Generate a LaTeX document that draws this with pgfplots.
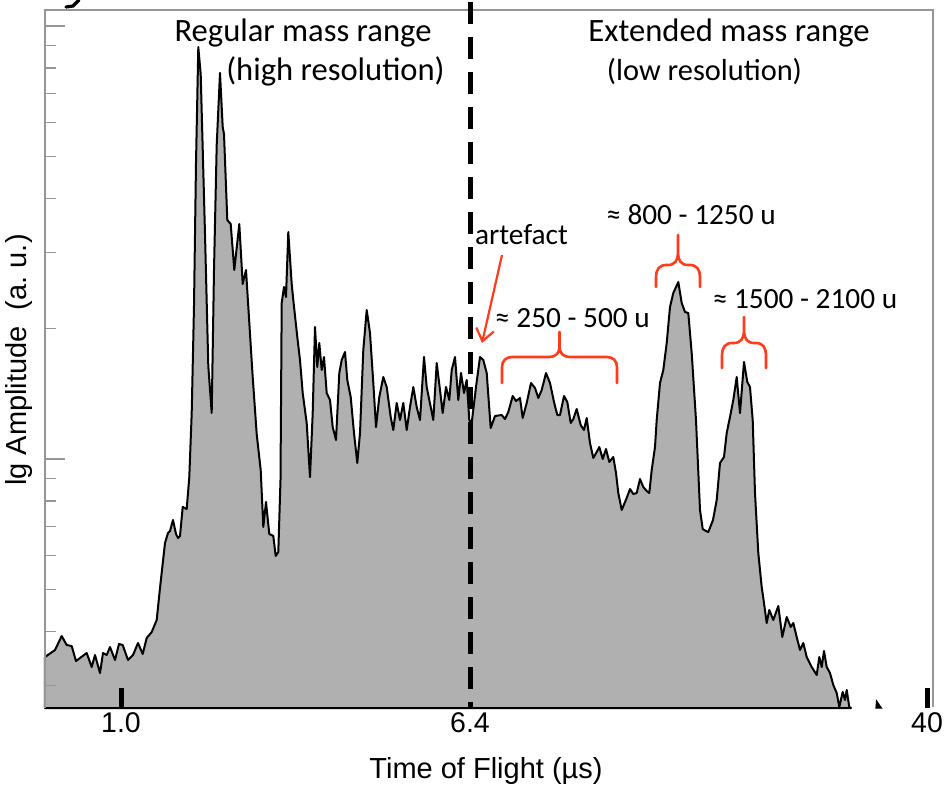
\documentclass[border=0pt]{standalone}
\usepackage{fontspec}
\setmainfont{Liberation Sans}
\newfontfamily\carl{Carlito}
\usepackage{pgfplots}
\usepackage{pgfplotstable}
\pgfplotsset{compat=1.18}
\usetikzlibrary{arrows.meta}
\definecolor{fillgray}{RGB}{176,176,176}
\definecolor{axgray}{RGB}{150,150,150}
\definecolor{annored}{RGB}{255,59,28}

% x: position along the time-of-flight axis (picture units), h: height of the lg-amplitude trace above the baseline
\pgfplotstableread{
x h
45 51
55 58
61.7 72
66.7 63
71.7 62
76 47
86.7 55
91.7 41
95 53
100 35
103 55
106.7 53
110 61
115 48
119 64
122.7 63
128 48
133 53
138 65
142.7 54
146.7 70
151.7 76
156.7 88
160 120
165 165
168 175
170 177
173 188
176 174
178 170
180 172
182.7 201
186.7 199
189.3 231
191.7 295
194 402
196 545
198.3 661
200.7 634
205 474
208.3 342
211.7 295
214 438
216.7 563
220 635
222.7 581
224 574
227.3 488
230.7 484
234.3 438
239.3 484
242.7 424
246 438
252.7 331
256.7 274
260.7 238
263.3 181
266 206
269.3 174
273.3 172
275.7 152
278.3 156
280.5 228
281.7 405
284 421
286 411
288.3 476
291.7 424
293.3 408
297.3 371
300 348
302.7 315
306.7 285
310 231
312.7 295
315 381
317.3 341
319.3 365
321.7 338
324 351
326.7 315
330 308
332.7 281
336 268
339.3 335
341.7 348
345 356
347.3 328
350.7 311
354 275
357.3 245
360 275
363.3 358
366.7 398
370 375
373.3 325
376 281
379.3 311
383.3 331
386.7 321
390.7 291
393.3 278
396.7 305
400 288
403.3 305
406.7 278
410 301
413.3 321
416.7 301
420 288
424 351
426.7 321
430.7 301
433.3 288
436.7 345
440 318
442.7 295
446 321
449.3 308
451.7 338
455 351
458.3 308
461 335
464 315
466.7 328
469.3 288
471.7 285
476 321
480 351
483.3 348
486.7 335
490.7 280
495 292
501.7 293
505 289
508.3 296
512.7 312
516 307
520 310
522.7 290
526.7 305
531 325
535 320
538.3 310
541.7 318
546 335
550 325
554 306
557.3 293
560 293
564 312
567.3 306
570.7 285
573.3 289
576.7 299
580.7 283
584 278
586.7 290
590 265
593.3 250
596.7 256
599.3 261
602.7 249
606 259
609.3 246
613.3 251
616 235
618.3 215
621.7 198
626.7 210
630 219
633.3 214
636.7 215
640 229
643.3 221
646.7 217
649.3 215
651.7 238
655 261
656.7 288
660 325
663.3 338
666.7 365
670 401
673.3 415
678.3 426
681.7 405
685 396
688.3 395
691.7 355
696 288
700 198
702.7 179
706 177
708.3 176
713 188
716.7 208
720 245
724 251
726.7 275
730 291
733.3 308
736.7 331
740 295
744 346
747.3 326
750 321
752.7 288
755 215
758.3 155
761.7 121
763.3 110
766.7 85
769.3 98
773.3 88
778.3 102
782.3 71
786.7 91
790.7 81
793.3 85
796.7 71
800 58
803.3 65
806.7 51
811.7 41
816.7 33
819.3 51
821.7 41
824 57
826.7 41
830 35
833.3 23
836.7 15
839.3 1
842.7 16
845 8
846.7 18
849.3 1
851 0
}\spectrum

\pgfplotstableread{
x h
876 0
876.6 7
878 5
880 2
881.5 0
}\blip

\begin{document}
\begin{tikzpicture}
\path[use as bounding box] (0,0) rectangle (474.5pt,-394pt);
\begin{axis}[
  at={(22.5pt,-354pt)}, anchor=south west,
  scale only axis, width=444pt, height=349pt,
  xmin=45, xmax=933, ymin=0, ymax=698,
  axis line style={draw=none},
  axis on top,
  clip=false,
  tick align=inside,
  xtick={121,927}, xticklabels={\mbox{1.0},\mbox{40}},
  extra x ticks={470}, extra x tick labels={\mbox{6.4}},
  extra x tick style={major tick length=0pt},
  xtick pos=bottom, ytick pos=left,
  xtick style={draw=black, line width=2.5pt},
  ytick={249,682}, yticklabels={},
  minor ytick={22.6,76.7,118.7,152.9,181.9,207,229.2,379.3,455.6,509.7,551.7,585.9,614.9,640.0,662.2},
  ytick style={draw=axgray, line width=0.6pt},
  major tick length=10pt, minor tick length=5.5pt,
  xticklabel style={font=\fontsize{14.25pt}{16pt}\selectfont, yshift=1pt},
]
\addplot[fill=fillgray, draw=black, line width=1pt, line join=round] table[x=x, y=h] {\spectrum} \closedcycle;
\addplot[fill=black, draw=black, line width=0.6pt] table[x=x, y=h] {\blip} \closedcycle;
\end{axis}
\begin{scope}[x=0.5pt, y=-0.5pt]
  % small dark stroke at the top-left edge (remnant above the chart)
  \draw[black, line width=1.6pt, line cap=round] (79,0) -- (73,6) -- (66,7);
  % frame
  \draw[axgray, line width=0.75pt] (45,708) -- (45,10) -- (933,10) -- (933,707);
  % dashed divider
  \draw[black, line width=2.5pt, dash pattern=on 11pt off 6.5pt] (470,2) -- (470,708);
  % headers
  \node[anchor=base, font=\carl\fontsize{16.3pt}{18pt}\selectfont] at (303,41) {Regular mass range};
  \node[anchor=base, font=\carl\fontsize{16.3pt}{18pt}\selectfont] at (335.5,80) {(high resolution)};
  \node[anchor=base, font=\carl\fontsize{16.3pt}{18pt}\selectfont] at (729,41) {Extended mass range};
  \node[anchor=base, font=\carl\fontsize{15.2pt}{17pt}\selectfont] at (704.5,80) {(low resolution)};
  % annotations
  \node[anchor=base, font=\carl\fontsize{14.65pt}{16pt}\selectfont] at (521.5,244) {artefact};
  \node[anchor=base, font=\carl\fontsize{14.65pt}{16pt}\selectfont] at (572.5,327) {≈ 250 - 500 u};
  \node[anchor=base, font=\carl\fontsize{14.65pt}{16pt}\selectfont] at (691,224) {≈ 800 - 1250 u};
  \node[anchor=base, font=\carl\fontsize{14.65pt}{16pt}\selectfont] at (805,308) {≈ 1500 - 2100 u};
  \draw[annored, line width=1.1pt, -{Straight Barb[length=6pt, width=9pt]}] (502,255) -- (482,343);
  % braces
  \draw[annored, line width=1.3pt, line cap=round]
    (502,383) -- (502,367) .. controls (502,361) and (506,357) .. (512,357) -- (549.5,357)
    .. controls (555.5,357) and (559.5,353) .. (559.5,347) -- (559.5,332)
    (559.5,347) .. controls (559.5,353) and (563.5,357) .. (569.5,357) -- (607,357)
    .. controls (613,357) and (617,361) .. (617,367) -- (617,383);
  \draw[annored, line width=1.3pt, line cap=round]
    (656,287) -- (656,277) .. controls (656,270) and (659,265) .. (666,265) -- (668,265)
    .. controls (675,265) and (678,260) .. (678,253) -- (678,235)
    (678,253) .. controls (678,260) and (681,265) .. (688,265) -- (690,265)
    .. controls (697,265) and (700,270) .. (700,277) -- (700,287);
  \draw[annored, line width=1.3pt, line cap=round]
    (722,368) -- (722,355) .. controls (722,348) and (725,343) .. (732,343) -- (734,343)
    .. controls (741,343) and (744,338) .. (744,331) -- (744,317)
    (744,331) .. controls (744,338) and (747,343) .. (754,343) -- (756,343)
    .. controls (763,343) and (766,348) .. (766,355) -- (766,368);
  % axis labels
  \node[anchor=base, font=\fontsize{14.5pt}{16pt}\selectfont] at (486,778) {Time of Flight (µs)};
  \node[anchor=base, rotate=90, font=\fontsize{14.5pt}{16pt}\selectfont] at (26,360) {lg Amplitude\ \ (a.\ u.)};
\end{scope}
\end{tikzpicture}
\end{document}
